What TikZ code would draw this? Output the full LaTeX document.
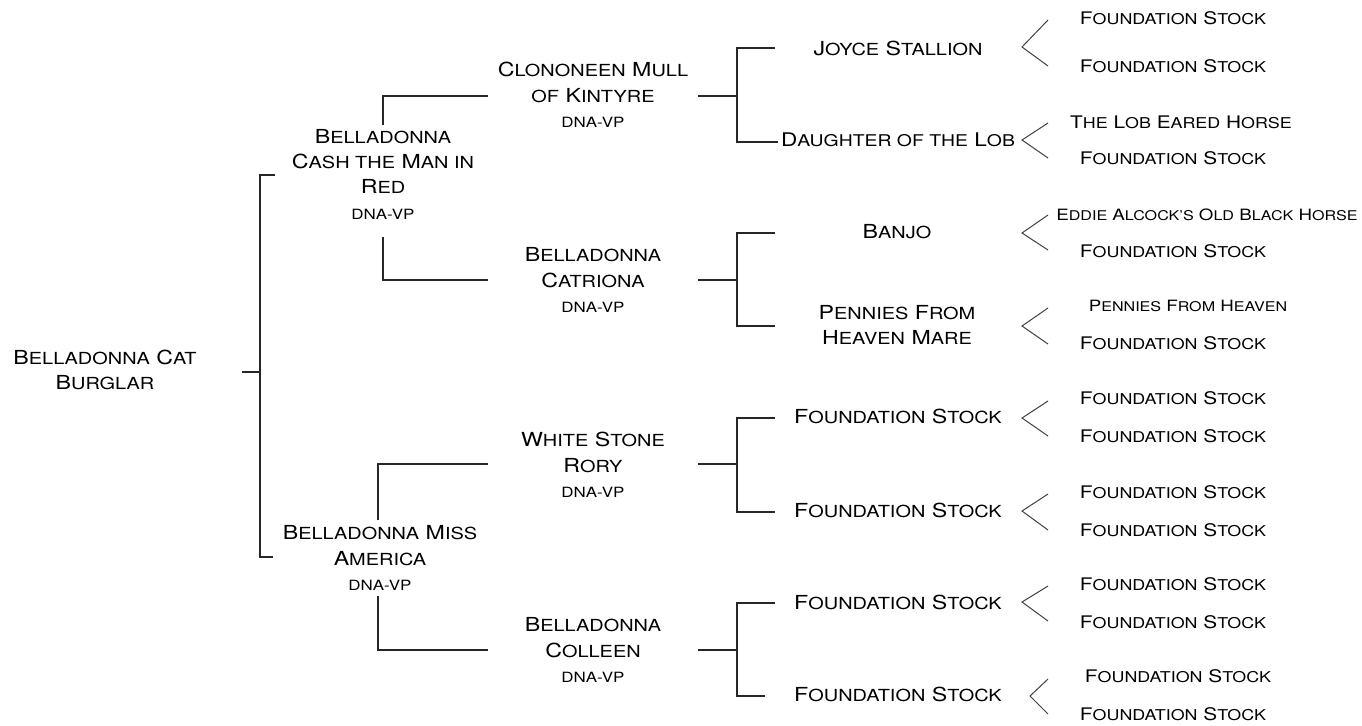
\documentclass[tikz,border=0pt]{standalone}
\usepackage{fontspec}
\setmainfont[FakeStretch=1.2]{TeX Gyre Heros}
\makeatletter
\newcommand\s[1]{{\fontsize{\fpeval{0.86*\f@size}}{\f@baselineskip}\selectfont\MakeUppercase{#1}}}
\makeatother
\newcommand\dna{{\fontsize{10.6}{19}\selectfont DNA-VP}}
\begin{document}
\begin{tikzpicture}[x=0.75pt,y=-0.75pt,
  nm/.style={align=center,inner sep=0pt,text=black,font=\fontsize{14.5}{19}\selectfont},
  nmn/.style={nm,font=\fontsize{14.1}{19}\selectfont},
  lf/.style={inner sep=0pt,text=black,font=\fontsize{13}{14}\selectfont},
  lfe/.style={inner sep=0pt,text=black,font=\fontsize{11.7}{13}\selectfont},
  lfs/.style={inner sep=0pt,text=black,font=\fontsize{11.7}{12}\selectfont},
  br/.style={line width=1.1pt,draw=black!85},
  chev/.style={line width=0.75pt,draw=black!75}]
\useasboundingbox (0,0) rectangle (1362,725);
% generation 1
\node[nm] (root) at (105,370) {B\s{elladonna} C\s{at}\\B\s{urglar}};
% generation 2
\node[nm] (s) at (383,174) {B\s{elladonna}\\C\s{ash the} M\s{an in}\\R\s{ed}\\\dna};
\node[nm] (d) at (380,558) {B\s{elladonna} M\s{iss}\\A\s{merica}\\\dna};
% generation 3
\node[nm] (ss) at (593,95) {C\s{lononeen} M\s{ull}\\\s{of} K\s{intyre}\\\dna};
\node[nm] (sd) at (593,280) {B\s{elladonna}\\C\s{atriona}\\\dna};
\node[nm] (ds) at (593,465) {W\s{hite} S\s{tone}\\R\s{ory}\\\dna};
\node[nm] (dd) at (593,650) {B\s{elladonna}\\C\s{olleen}\\\dna};
% generation 4
\node[nm] (sss) at (898,48) {J\s{oyce} S\s{tallion}};
\node[nmn] (ssd) at (898,140) {D\s{aughter of the} L\s{ob}};
\node[nm] (sds) at (897,232) {B\s{anjo}};
\node[nm] (sdd) at (897,325) {P\s{ennies} F\s{rom}\\H\s{eaven} M\s{are}};
\node[nm] (dss) at (898,416) {F\s{oundation} S\s{tock}};
\node[nm] (dsd) at (898,510) {F\s{oundation} S\s{tock}};
\node[nm] (dds) at (898,602) {F\s{oundation} S\s{tock}};
\node[nm] (ddd) at (898,694) {F\s{oundation} S\s{tock}};
% generation 5
\node[lf] (ssss) at (1173,18) {F\s{oundation} S\s{tock}};
\node[lf] (sssd) at (1173,66) {F\s{oundation} S\s{tock}};
\node[lf] (ssds) at (1181,122) {T\s{he} L\s{ob} E\s{ared} H\s{orse}};
\node[lf] (ssdd) at (1173,158) {F\s{oundation} S\s{tock}};
\node[lfe] (sdss) at (1207,215) {E\s{ddie} A\s{lcock's} O\s{ld} B\s{lack} H\s{orse}};
\node[lf] (sdsd) at (1173,251) {F\s{oundation} S\s{tock}};
\node[lfs] (sdds) at (1188,306) {P\s{ennies} F\s{rom} H\s{eaven}};
\node[lf] (sddd) at (1173,343) {F\s{oundation} S\s{tock}};
\node[lf] (dsss) at (1173,398) {F\s{oundation} S\s{tock}};
\node[lf] (dssd) at (1173,436) {F\s{oundation} S\s{tock}};
\node[lf] (dsds) at (1173,492) {F\s{oundation} S\s{tock}};
\node[lf] (dsdd) at (1173,530) {F\s{oundation} S\s{tock}};
\node[lf] (ddss) at (1173,584) {F\s{oundation} S\s{tock}};
\node[lf] (ddsd) at (1173,622) {F\s{oundation} S\s{tock}};
\node[lf] (ddds) at (1178,676) {F\s{oundation} S\s{tock}};
\node[lf] (dddd) at (1173,714) {F\s{oundation} S\s{tock}};
% brackets: root
\coordinate (r-in) at (242,372);
\coordinate (r-j) at (260,372);
\coordinate (s-in) at (275,175);
\coordinate (d-in) at (273,557);
\draw[br] (r-in) -- (r-j);
\draw[br] (s-in) -| (r-j) |- (d-in);
% brackets: generation 2
\coordinate (s-up) at (383,125);
\coordinate (s-dn) at (383,237);
\coordinate (ss-in) at (488,96);
\coordinate (sd-in) at (488,280);
\draw[br] (s-up) |- (ss-in);
\draw[br] (s-dn) |- (sd-in);
\coordinate (d-up) at (378,520);
\coordinate (d-dn) at (378,596);
\coordinate (ds-in) at (488,464);
\coordinate (dd-in) at (488,650);
\draw[br] (d-up) |- (ds-in);
\draw[br] (d-dn) |- (dd-in);
% brackets: generation 3
\foreach \p/\a/\b/\ya/\yb/\ym/\ea/\eb in {ss/sss/ssd/48/142/96/775/778, sd/sds/sdd/233/326/280/775/775, ds/dss/dsd/418/512/464/775/775, dd/dds/ddd/603/696/650/775/765}{
  \coordinate (\p-out) at (698,\ym);
  \coordinate (\p-j) at (737,\ym);
  \coordinate (\a-in) at (\ea,\ya);
  \coordinate (\b-in) at (\eb,\yb);
  \draw[br] (\p-out) -- (\p-j);
  \draw[br] (\a-in) -| (\p-j) |- (\b-in);
}
% chevrons
\foreach \n/\vx/\vy/\t/\bo in {sss/1022/47/20/66, ssd/1022/140/123/158, sds/1022/233/215/250, sdd/1022/326/308/344, dss/1022/418/401/436, dsd/1022/511/494/530, dds/1022/602/586/621, ddd/1030/696/679/714}{
  \coordinate (\n-v) at (\vx,\vy);
  \coordinate (\n-t) at (1048,\t);
  \coordinate (\n-b) at (1048,\bo);
  \draw[chev] (\n-t) -- (\n-v) -- (\n-b);
}
\end{tikzpicture}
\end{document}
